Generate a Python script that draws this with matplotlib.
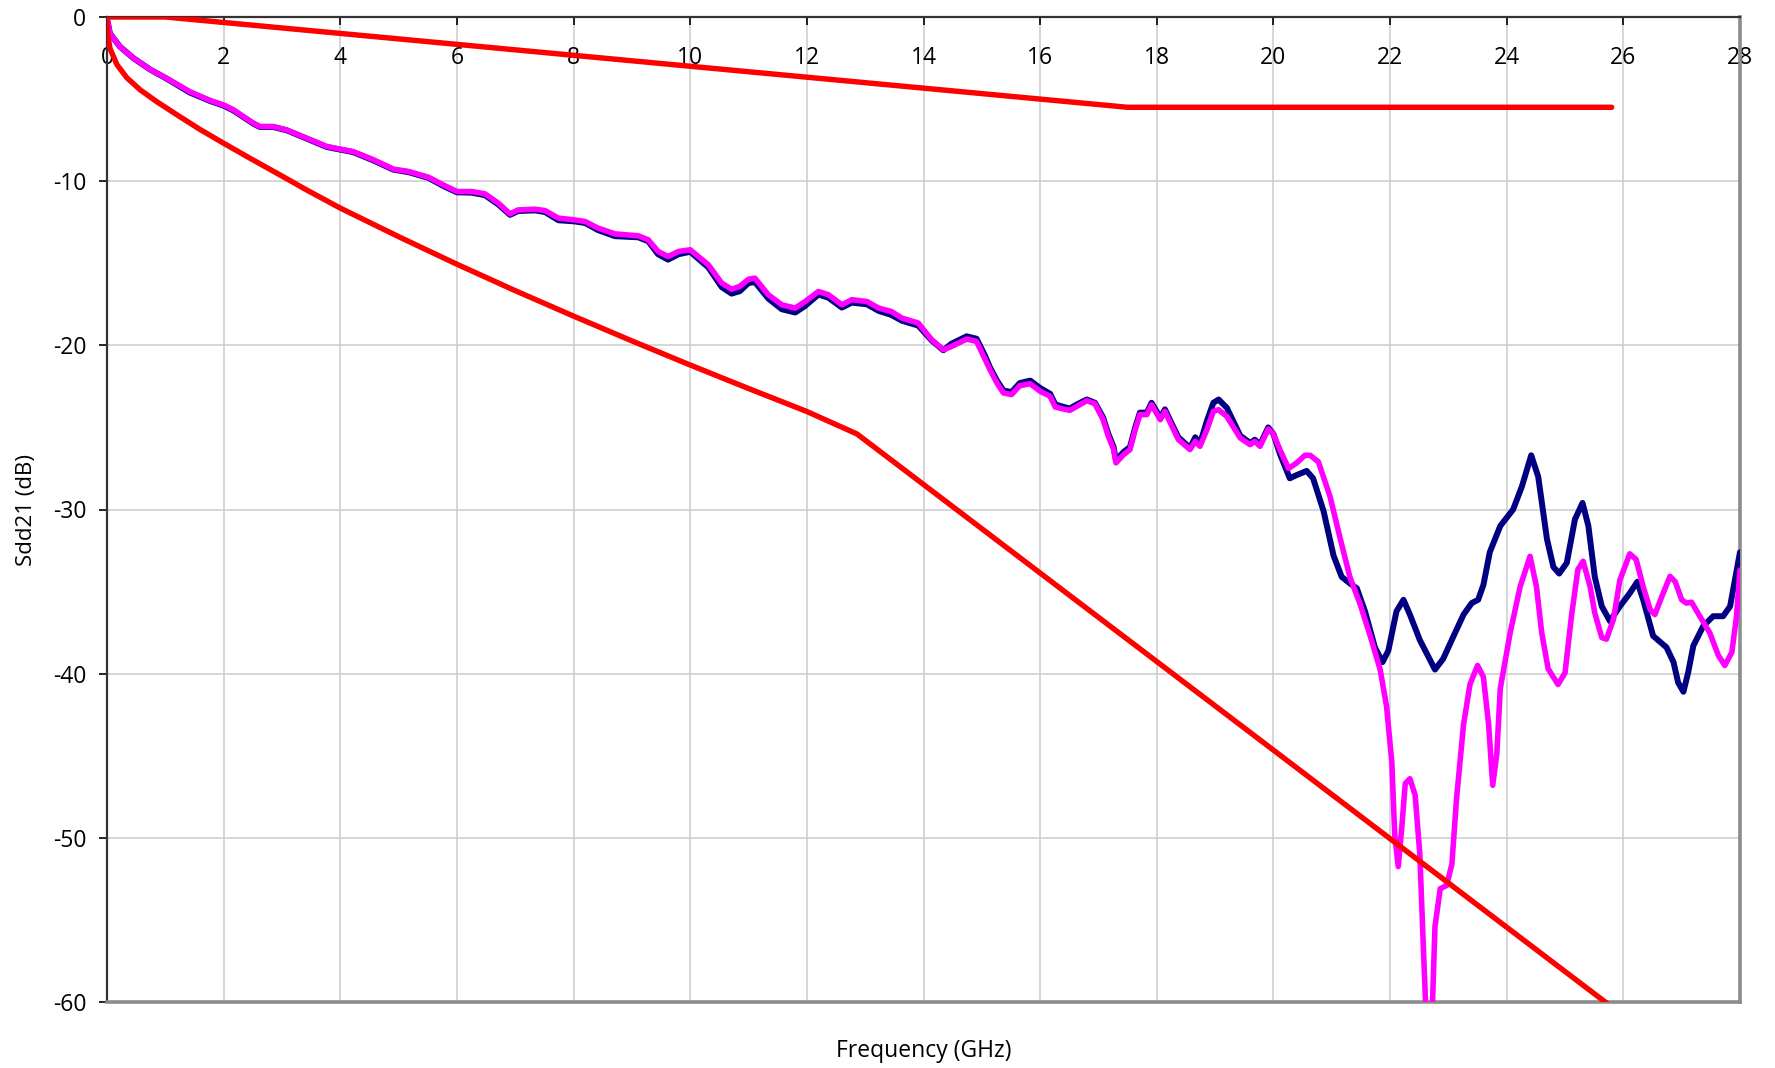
import matplotlib
matplotlib.use("Agg")
import matplotlib.pyplot as plt

plt.rcParams['font.family'] = ['Open Sans', 'DejaVu Sans']

# ---- data ----
x_ticks = [0, 2, 4, 6, 8, 10, 12, 14, 16, 18, 20, 22, 24, 26, 28]
y_ticks = [0, -10, -20, -30, -40, -50, -60]

# upper limit line
upper_f = [0, 1.0, 17.5, 25.8]
upper_db = [0, 0, -5.5, -5.5]

# lower limit line
lower_f = [0.0, 0.01, 0.05, 0.17, 0.34, 0.57, 0.85, 1.2, 1.59, 2.0, 2.45, 2.91, 3.42,
           4.0, 5.0, 6.0, 7.0, 8.0, 9.0, 10.0, 11.0, 12.0, 12.86, 25.8]
lower_db = [-0.3, -1.0, -1.9, -2.9, -3.7, -4.44, -5.15, -5.96, -6.84, -7.69, -8.6, -9.51, -10.53,
            -11.64, -13.38, -15.06, -16.67, -18.22, -19.73, -21.2, -22.63, -24.03, -25.4, -60.3]

# magenta measurement
mag_f = [0.01, 0.05, 0.22, 0.45, 0.74, 1.02, 1.42, 1.77, 2.0, 2.17, 2.34, 2.51, 2.62, 2.85,
         3.08, 3.42, 3.77, 4.0, 4.22, 4.57, 4.91, 5.17, 5.51, 5.80, 6.0, 6.25, 6.48, 6.71,
         6.91, 7.05, 7.34, 7.51, 7.74, 8.02, 8.2, 8.42, 8.71, 9.11, 9.28, 9.45, 9.62, 9.80,
         10.0, 10.31, 10.54, 10.71, 10.85, 11.0, 11.11, 11.34, 11.57, 11.80, 11.97, 12.2,
         12.37, 12.60, 12.77, 13.03, 13.23, 13.45, 13.63, 13.91, 14.14, 14.34, 14.48, 14.74,
         14.91, 15.05, 15.14, 15.26, 15.37, 15.51, 15.65, 15.83, 16.0, 16.17, 16.26, 16.40,
         16.51, 16.63, 16.80, 16.94, 17.08, 17.17, 17.26, 17.30, 17.43, 17.54, 17.63, 17.71,
         17.83, 17.91, 18.06, 18.14, 18.26, 18.37, 18.57, 18.66, 18.74, 18.86, 18.97, 19.06,
         19.20, 19.43, 19.60, 19.68, 19.77, 19.91, 20.0, 20.11, 20.26, 20.40, 20.54, 20.63,
         20.77, 20.97, 21.14, 21.31, 21.48, 21.66, 21.83, 21.94, 22.03, 22.08, 22.14, 22.20,
         22.26, 22.34, 22.43, 22.51, 22.57, 22.63, 22.71, 22.77, 22.86, 22.97, 23.06, 23.14,
         23.26, 23.37, 23.50, 23.60, 23.69, 23.76, 23.83, 23.89, 24.06, 24.23, 24.40, 24.51,
         24.60, 24.71, 24.88, 25.0, 25.11, 25.22, 25.31, 25.43, 25.51, 25.63, 25.71, 25.83,
         25.94, 26.11, 26.22, 26.34, 26.46, 26.54, 26.66, 26.80, 26.89, 27.0, 27.08, 27.17,
         27.31, 27.48, 27.63, 27.74, 27.86, 27.94, 28.0]
mag_db = [-0.25, -1.0, -1.8, -2.5, -3.2, -3.73, -4.55, -5.09, -5.36, -5.66, -6.07, -6.47, -6.67, -6.67,
          -6.88, -7.38, -7.89, -8.05, -8.2, -8.7, -9.27, -9.41, -9.76, -10.29, -10.63, -10.63, -10.77, -11.34,
          -11.99, -11.75, -11.71, -11.79, -12.25, -12.36, -12.46, -12.86, -13.21, -13.33, -13.57, -14.28, -14.59, -14.28,
          -14.18, -15.09, -16.21, -16.58, -16.41, -15.97, -15.91, -16.92, -17.53, -17.73, -17.33, -16.72,
          -16.92, -17.53, -17.22, -17.33, -17.73, -17.94, -18.34, -18.64, -19.66, -20.27, -20.07, -19.62,
          -19.76, -20.8, -21.48, -22.3, -22.9, -23.0, -22.46, -22.34, -22.8, -23.1, -23.76, -23.88,
          -23.96, -23.72, -23.37, -23.56, -24.53, -25.54, -26.35, -27.16, -26.66, -26.35, -25.14, -24.22,
          -24.22, -23.62, -24.53, -24.02, -24.93, -25.74, -26.35, -25.85, -26.15, -25.14, -24.02, -23.92,
          -24.33, -25.64, -26.05, -25.85, -26.15, -25.1, -25.4, -26.35, -27.5, -27.16, -26.7, -26.7,
          -27.09, -29.2, -31.7, -34.1, -35.7, -37.7, -39.75, -42.0, -45.4, -49.8, -51.75, -49.4,
          -46.7, -46.4, -47.4, -51.0, -56.6, -62.0, -62.0, -55.4, -53.1, -52.9, -51.6, -47.6,
          -43.1, -40.65, -39.5, -40.2, -43.1, -46.8, -44.9, -40.9, -37.5, -34.7, -32.85, -34.7,
          -37.5, -39.7, -40.66, -39.95, -36.5, -33.66, -33.15, -34.7, -36.3, -37.8, -37.9, -36.7,
          -34.3, -32.7, -33.05, -34.7, -36.1, -36.4, -35.3, -34.07, -34.4, -35.5, -35.7, -35.65,
          -36.5, -37.5, -38.9, -39.5, -38.7, -36.5, -33.7]

# navy measurement
navy_f = [0.01, 0.05, 0.22, 0.45, 0.74, 1.02, 1.42, 1.77, 2.0, 2.17, 2.34, 2.51, 2.62, 2.85,
          3.08, 3.42, 3.77, 4.0, 4.22, 4.57, 4.91, 5.17, 5.51, 5.80, 6.0, 6.25, 6.48, 6.71,
          6.91, 7.05, 7.34, 7.51, 7.74, 8.02, 8.2, 8.42, 8.71, 9.11, 9.28, 9.45, 9.62, 9.80,
          10.0, 10.31, 10.54, 10.71, 10.85, 11.0, 11.11, 11.34, 11.57, 11.80, 11.97, 12.2,
          12.37, 12.60, 12.77, 13.03, 13.23, 13.45, 13.63, 13.91, 14.14, 14.34, 14.48, 14.74,
          14.91, 15.05, 15.14, 15.26, 15.37, 15.51, 15.65, 15.83, 16.0, 16.17, 16.26, 16.40,
          16.51, 16.63, 16.80, 16.94, 17.08, 17.17, 17.26, 17.30, 17.43, 17.54, 17.63, 17.71,
          17.83, 17.91, 18.06, 18.14, 18.26, 18.37, 18.57, 18.66, 18.74, 18.86, 18.97, 19.06,
          19.20, 19.43, 19.60, 19.68, 19.77, 19.91, 20.0, 20.11, 20.28, 20.40, 20.57, 20.68,
          20.86, 21.03, 21.17, 21.31, 21.43, 21.57, 21.74, 21.87, 21.97, 22.11, 22.23, 22.34,
          22.51, 22.77, 22.91, 23.09, 23.26, 23.40, 23.51, 23.60, 23.71, 23.89, 24.11, 24.26,
          24.42, 24.54, 24.69, 24.80, 24.90, 25.03, 25.17, 25.30, 25.40, 25.51, 25.63, 25.77,
          25.94, 26.11, 26.24, 26.34, 26.51, 26.74, 26.86, 26.94, 27.03, 27.11, 27.20, 27.37,
          27.54, 27.71, 27.83, 28.0]
navy_db = [-0.25, -1.0, -1.8, -2.5, -3.2, -3.75, -4.6, -5.12, -5.4, -5.7, -6.1, -6.5, -6.7, -6.7,
           -6.9, -7.4, -7.92, -8.08, -8.23, -8.74, -9.3, -9.45, -9.8, -10.35, -10.68, -10.7, -10.85, -11.42,
           -12.05, -11.82, -11.78, -11.88, -12.38, -12.45, -12.55, -12.98, -13.35, -13.42, -13.66, -14.45, -14.78, -14.45,
           -14.3, -15.25, -16.45, -16.85, -16.7, -16.2, -16.15, -17.15, -17.8, -18.0, -17.6, -16.9,
           -17.1, -17.7, -17.4, -17.5, -17.9, -18.15, -18.5, -18.8, -19.7, -20.3, -19.9, -19.45,
           -19.6, -20.6, -21.35, -22.15, -22.75, -22.85, -22.3, -22.15, -22.6, -22.95, -23.6, -23.75,
           -23.85, -23.6, -23.3, -23.5, -24.4, -25.4, -26.2, -27.0, -26.5, -26.2, -25.0, -24.1,
           -24.1, -23.5, -24.4, -23.9, -24.8, -25.6, -26.25, -25.6, -26.0, -24.6, -23.5, -23.3,
           -23.8, -25.5, -25.95, -25.75, -26.05, -25.0, -25.4, -26.6, -28.1, -27.9, -27.65, -28.1,
           -30.1, -32.8, -34.1, -34.5, -34.8, -36.2, -38.4, -39.3, -38.6, -36.2, -35.5, -36.4,
           -37.95, -39.75, -39.1, -37.7, -36.4, -35.7, -35.5, -34.6, -32.6, -31.0, -30.0, -28.6,
           -26.7, -28.0, -31.8, -33.5, -33.9, -33.25, -30.6, -29.6, -31.0, -34.1, -35.9, -36.8,
           -35.9, -35.1, -34.4, -35.5, -37.7, -38.4, -39.3, -40.55, -41.1, -39.95, -38.3, -37.1,
           -36.5, -36.5, -35.9, -32.6]

# ---- figure ----
fig = plt.figure(figsize=(17.75, 10.68), dpi=100)
ax = fig.add_axes([107 / 1775, 1 - 1002 / 1068, (1740 - 107) / 1775, (1002 - 17) / 1068])

ax.plot(navy_f, navy_db, color='#000080', lw=4.3, solid_joinstyle='round', solid_capstyle='round', zorder=3)
ax.plot(mag_f, mag_db, color='#FF00FF', lw=4.0, solid_joinstyle='round', solid_capstyle='round', zorder=4)
ax.plot(upper_f, upper_db, color='#FF0000', lw=3.9, solid_joinstyle='round', solid_capstyle='round', zorder=5)
ax.plot(lower_f, lower_db, color='#FF0000', lw=3.9, solid_joinstyle='round', solid_capstyle='round', zorder=5)

ax.set_xlim(0, 28)
ax.set_ylim(-60, 0)
ax.set_xticks(x_ticks)
ax.set_yticks(y_ticks)
ax.set_xticklabels([str(t) for t in x_ticks])
ax.set_yticklabels([str(t) for t in y_ticks])

ax.grid(True, color='#cccccc', lw=1.1, zorder=0)
ax.set_axisbelow(True)

ax.xaxis.tick_top()
ax.tick_params(axis='x', which='both', top=True, bottom=False, labeltop=True, labelbottom=False,
               direction='in', length=6, width=1.2, pad=-38, labelsize=16.5, colors='black')
ax.tick_params(axis='y', which='both', left=True, right=False, direction='out',
               length=6, width=1.2, pad=9, labelsize=16.5, colors='black')

for s in ['left', 'top']:
    ax.spines[s].set_color('#333333')
    ax.spines[s].set_linewidth(1.6)
for s in ['right', 'bottom']:
    ax.spines[s].set_color('#8c8c8c')
    ax.spines[s].set_linewidth(2.6)

ax.set_xlabel('Frequency (GHz)', fontsize=16.5)
ax.xaxis.set_label_position('bottom')
ax.xaxis.set_label_coords(0.5, -0.038)
ax.set_ylabel('Sdd21 (dB)', fontsize=16)
ax.yaxis.set_label_coords(-0.043, 0.5)

fig.savefig('out.png', dpi=100)
